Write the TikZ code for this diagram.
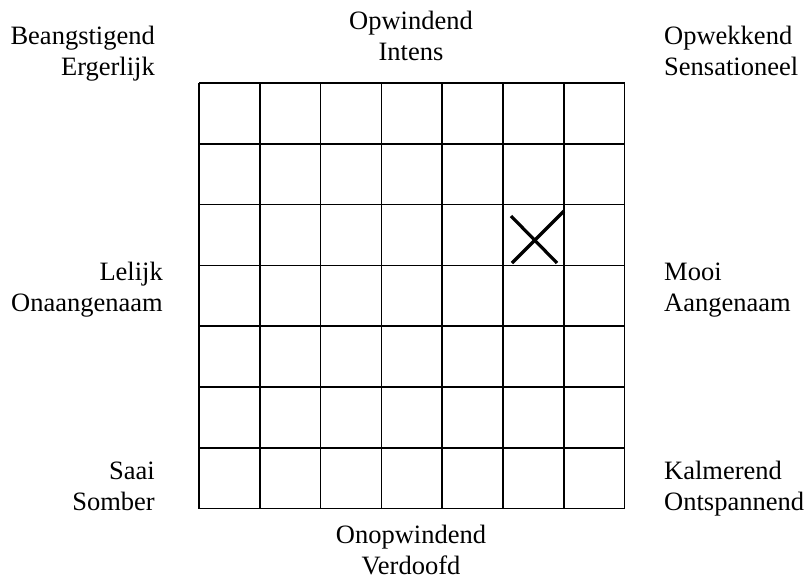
\documentclass[tikz,border=0pt]{standalone}
\usepackage{fontspec}
\setmainfont{Liberation Serif}
\usetikzlibrary{positioning}
\tikzstyle{label} = [font=\fontsize{26.5}{31}\selectfont, inner sep=0pt]
\tikzstyle{gridline} = [line width=1.6pt, black]
\tikzstyle{cross} = [line width=3.2pt, black]

\begin{document}
\begin{tikzpicture}[x=1pt, y=-1pt]
    \useasboundingbox (0,0) rectangle (807,582);

    % Grid, 7 x 7 cells
    \foreach \i in {0,...,7} {
        \draw[gridline] ({199+60.8*\i},83) -- ({199+60.8*\i},508.6);
        \draw[gridline] (199,{83+60.8*\i}) -- (624.6,{83+60.8*\i});
    }

    % Mark
    \draw[cross] (511,216) -- (557,263);
    \draw[cross] (512,263) -- (564,211);

    % Axis labels (anchored at the baseline of the last line)
    \node[label, align=center, anchor=base] (top) at (411,60) {Opwindend\\Intens};
    \node[label, align=center, anchor=base] (bottom) at (411,574) {Onopwindend\\Verdoofd};
    \node[label, align=right, anchor=base east] (left) at (163,311) {Lelijk\\Onaangenaam};
    \node[label, align=left, anchor=base west] (right) at (664,311) {Mooi\\Aangenaam};

    % Corner labels
    \node[label, align=right, anchor=base east] (topleft) at (155,75) {Beangstigend\\Ergerlijk};
    \node[label, align=left, anchor=base west] (topright) at (664,75) {Opwekkend\\Sensationeel};
    \node[label, align=right, anchor=base east] (bottomleft) at (155,510) {Saai\\Somber};
    \node[label, align=left, anchor=base west] (bottomright) at (664,510) {Kalmerend\\Ontspannend};
\end{tikzpicture}
\end{document}
